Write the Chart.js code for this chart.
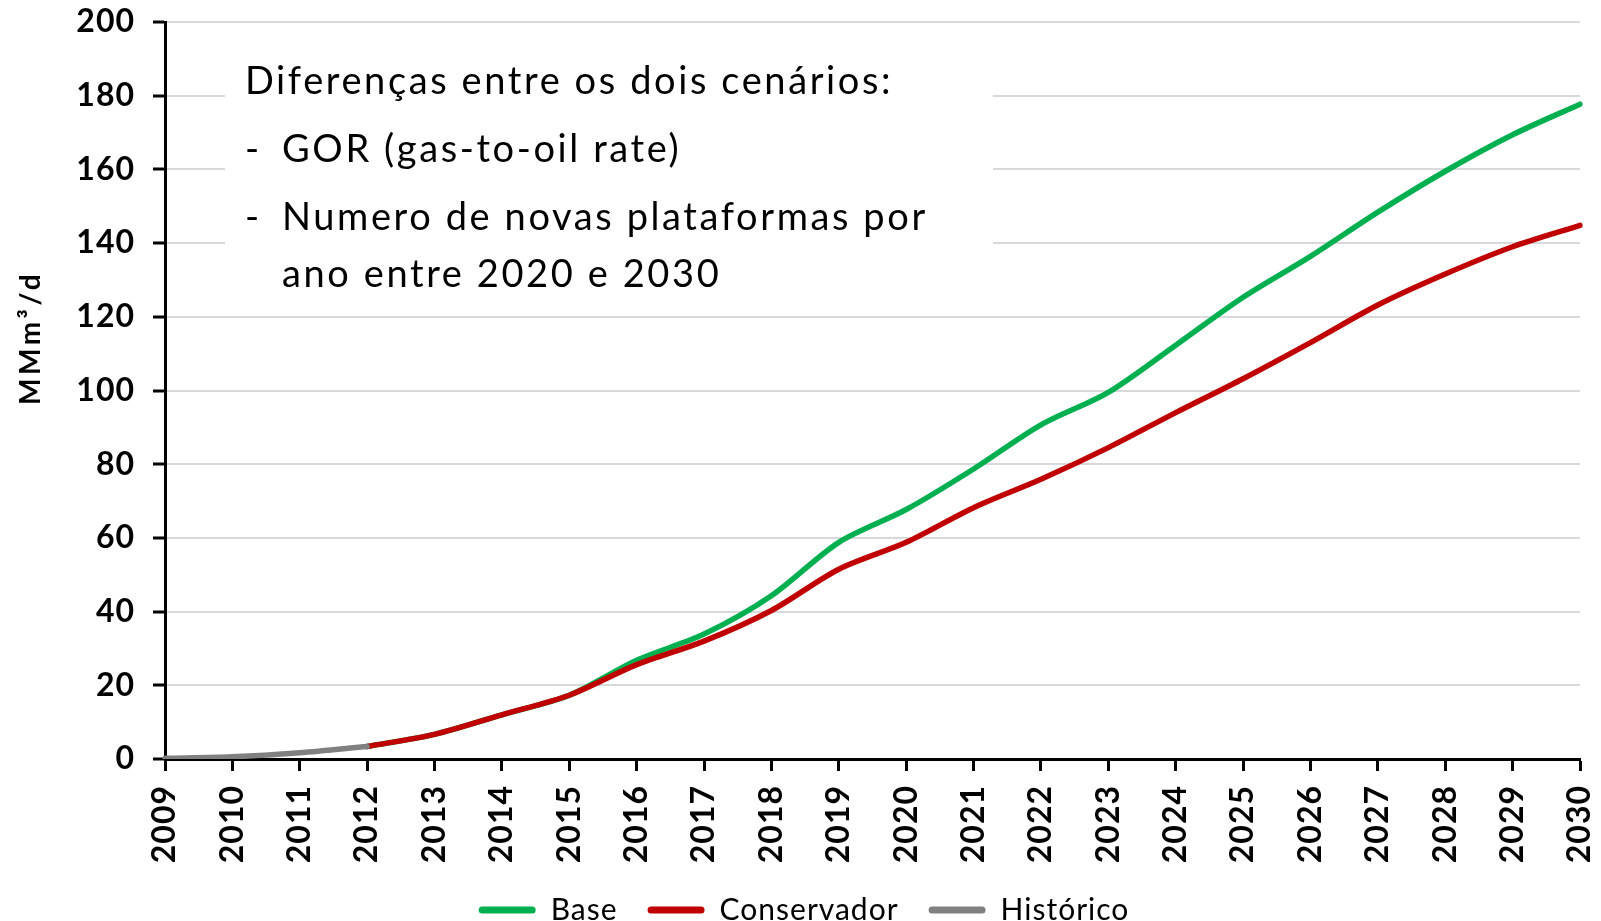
<!DOCTYPE html>
<html>
<head>
<meta charset="utf-8">
<script src="https://cdn.jsdelivr.net/npm/chart.js@4.4.1/dist/chart.umd.min.js"></script>
<style>
  html, body { margin: 0; padding: 0; background: #fff; }
  #wrap { width: 1601px; height: 921px; position: relative; }
</style>
</head>
<body>
<div id="wrap"><canvas id="chart"></canvas></div>
<script>
// gas production scenarios, MMm3/d
const years = ['2009','2010','2011','2012','2013','2014','2015','2016','2017','2018','2019',
  '2020','2021','2022','2023','2024','2025','2026','2027','2028','2029','2030'];
const base = [null, null, null, 3.4, 6.7, 12.0, 17.3, 26.8, 33.9, 44.3, 58.8,
  67.7, 78.7, 90.7, 99.5, 112.3, 125.3, 136.4, 148.4, 159.5, 169.4, 177.7];
const conservador = [null, null, null, 3.4, 6.7, 12.0, 17.3, 25.6, 32.0, 40.3, 51.5,
  58.8, 68.2, 75.9, 84.5, 94.0, 103.2, 113.0, 123.2, 131.6, 139.0, 144.8];
const historico = [0.2, 0.6, 1.7, 3.4, null, null, null, null, null, null, null,
  null, null, null, null, null, null, null, null, null, null, null];
const yTicks = [0, 20, 40, 60, 80, 100, 120, 140, 160, 180, 200];

const notes = [
  { text: 'Diferenças entre os dois cenários:', x: 245, y: 82 },
  { text: '-', x: 245, y: 150 }, { text: 'GOR (gas-to-oil rate)', x: 282, y: 150 },
  { text: '-', x: 245, y: 218 }, { text: 'Numero de novas plataformas por', x: 282, y: 218 },
  { text: 'ano entre 2020 e 2030', x: 282, y: 275 },
];

const FONT = 'Lato, "Open Sans", sans-serif';

// the original font is wider than Lato, so open the letters up a bit
const spacing = {
  id: 'spacing',
  beforeUpdate(chart) { chart.ctx.letterSpacing = '1px'; },
  beforeDraw(chart) { chart.ctx.letterSpacing = '1px'; },
};

const notesPlugin = {
  id: 'notes',
  beforeDatasetsDraw(chart) {
    const ctx = chart.ctx;
    ctx.save();
    ctx.fillStyle = '#fff';
    ctx.fillRect(225, 42, 768, 262);
    ctx.fillStyle = '#000';
    ctx.font = '38px ' + FONT;
    ctx.letterSpacing = '2.6px';
    ctx.textBaseline = 'middle';
    ctx.textAlign = 'left';
    notes.forEach(n => ctx.fillText(n.text, n.x, n.y));
    ctx.restore();
  },
  afterDraw(chart) {
    // axis title sits above the axis middle in the original
    const ctx = chart.ctx;
    ctx.save();
    ctx.translate(31, 338);
    ctx.rotate(-Math.PI / 2);
    ctx.fillStyle = '#000';
    ctx.font = 'bold 28px ' + FONT;
    ctx.letterSpacing = '3.5px';
    ctx.textAlign = 'center';
    ctx.textBaseline = 'middle';
    ctx.fillText('MMm³/d', 0, 0);
    ctx.restore();
  },
};

function mkLine(label, data, color, order) {
  return {
    label, data, order,
    borderColor: color,
    backgroundColor: color,
    borderWidth: 5.5,
    pointRadius: 0,
    tension: 0.3,
    borderCapStyle: 'round',
    borderJoinStyle: 'round',
    fill: false,
  };
}

new Chart(document.getElementById('chart'), {
  type: 'line',
  data: {
    labels: years,
    datasets: [
      mkLine('Base', base, '#00b050', 3),
      mkLine('Conservador', conservador, '#c00000', 2),
      mkLine('Histórico', historico, '#808080', 1),
    ],
  },
  options: {
    responsive: true,
    maintainAspectRatio: false,
    animation: false,
    layout: { padding: { left: 28, right: 21, top: 22, bottom: -14 } },
    plugins: {
      tooltip: { enabled: false },
      legend: {
        position: 'bottom',
        labels: {
          color: '#000',
          font: { family: FONT, size: 30 },
          boxWidth: 57,
          boxHeight: 7,
          padding: 30,
          useBorderRadius: true,
          borderRadius: 3.5,
          generateLabels: chart => Chart.defaults.plugins.legend.labels.generateLabels(chart)
            .map(l => ({ ...l, lineWidth: 0 }))
            .sort((a, b) => a.datasetIndex - b.datasetIndex),
        },
      },
    },
    scales: {
      x: {
        offset: false,
        afterFit: axis => { axis.height = 106; axis.paddingRight = 0; },
        border: { display: true, color: '#000', width: 3 },
        grid: { display: true, drawOnChartArea: false, drawTicks: true, tickLength: 12, tickColor: '#000', tickWidth: 3 },
        ticks: {
          color: '#000', font: { family: FONT, size: 32, weight: 'bold' },
          minRotation: 90, maxRotation: 90, autoSkip: false, padding: 14,
        },
      },
      y: {
        min: 0, max: 200,
        afterFit: axis => { axis.width = 137; axis.paddingTop = 0; },
        afterBuildTicks: axis => { axis.ticks = yTicks.map(v => ({ value: v })); },
        border: { display: true, color: '#000', width: 3 },
        grid: { color: '#d9d9d9', lineWidth: 2, tickLength: 12, tickColor: '#000', tickWidth: 3 },
        ticks: { color: '#000', font: { family: FONT, size: 32, weight: 'bold' }, padding: 18 },
      },
    },
  },
  plugins: [spacing, notesPlugin],
});
</script>
</body>
</html>
